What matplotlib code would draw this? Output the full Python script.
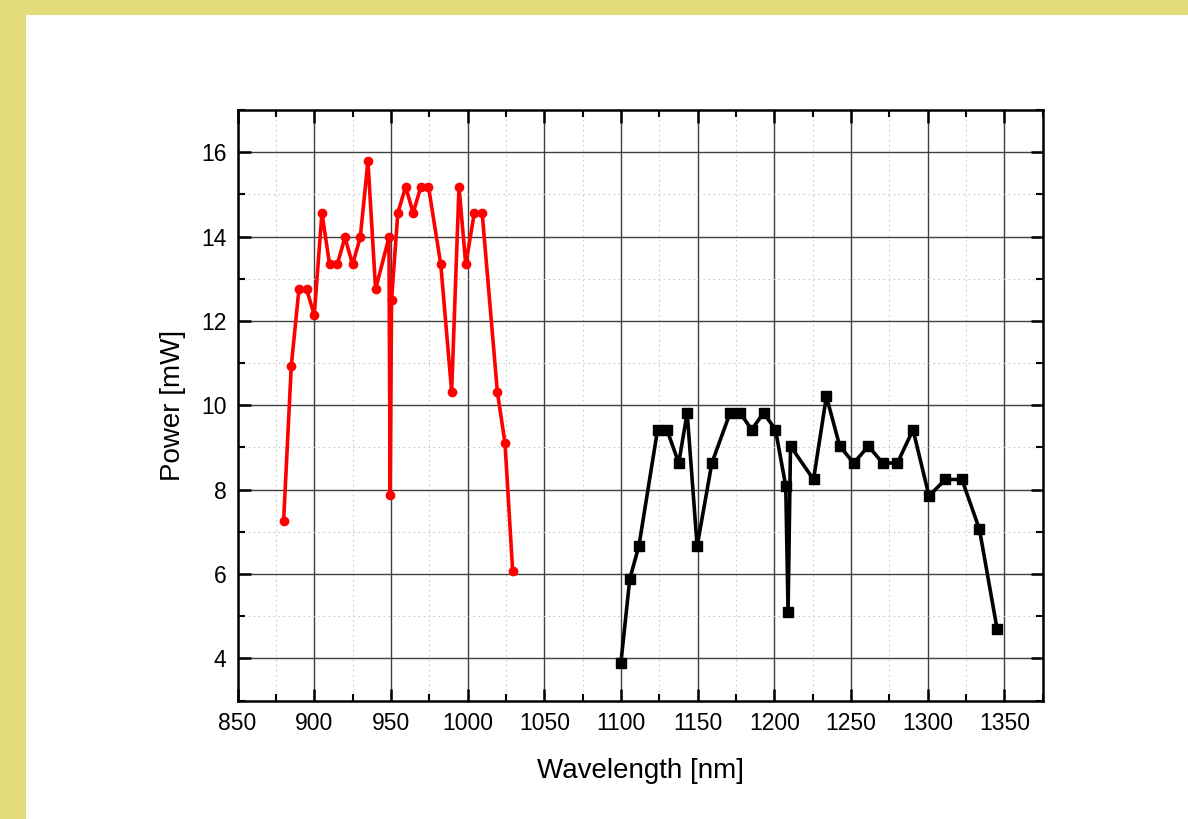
import numpy as np
import matplotlib.pyplot as plt
from matplotlib.patches import Rectangle
from matplotlib.ticker import MultipleLocator

plt.rcParams["font.family"] = ["Liberation Sans", "DejaVu Sans"]

# short-wavelength band (red)
wl_red = [880, 885, 890, 895, 900, 905, 910, 915, 920, 925, 930, 935, 940,
          948.7, 949.5, 950.4, 954.5, 959.6, 964.5, 969.5, 974.5, 982.5,
          989.6, 994.4, 998.8, 1004.4, 1009.5, 1019.4, 1024.4, 1029.4]
pw_red = [7.25, 10.93, 12.75, 12.75, 12.14, 14.56, 13.34, 13.34, 13.98, 13.34,
          13.98, 15.79, 12.75, 13.98, 7.88, 12.5, 14.56, 15.18, 14.56, 15.18,
          15.18, 13.34, 10.32, 15.18, 13.34, 14.56, 14.56, 10.32, 9.1, 6.06]

# long-wavelength band (black)
wl_blk = [1100, 1105.8, 1111.7, 1123.9, 1130, 1137.7, 1143.2, 1149.7, 1159.3,
          1171.2, 1177.7, 1185.3, 1193, 1200.8, 1207.5, 1209, 1210.6, 1225.6,
          1234, 1242.7, 1251.8, 1261.4, 1270.7, 1280.3, 1290.5, 1300.9,
          1311.6, 1322.4, 1333.8, 1345.3]
pw_blk = [3.9, 5.89, 6.66, 9.42, 9.42, 8.63, 9.82, 6.66, 8.63, 9.82, 9.82,
          9.42, 9.82, 9.42, 8.08, 5.1, 9.03, 8.24, 10.21, 9.03, 8.63, 9.03,
          8.63, 8.63, 9.42, 7.85, 8.24, 8.24, 7.06, 4.7]

fig = plt.figure(figsize=(11.88, 8.19), dpi=100)
fig.patch.set_facecolor("#e3dc7a")
# white page inside the yellow frame, kept behind the axes
fig.add_artist(Rectangle((26 / 1188, 0), 1, 1 - 15 / 819,
                         transform=fig.transFigure, facecolor="white",
                         edgecolor="none", zorder=-5))

ax = fig.add_axes([237.6 / 1188, 1 - 700.5 / 819, 805 / 1188, 590.5 / 819])

ax.plot(wl_red, pw_red, color="red", lw=2.6, marker="o", ms=6,
        zorder=3)
ax.plot(wl_blk, pw_blk, color="black", lw=2.6, marker="s", ms=6.5,
        zorder=3)

ax.set_xlim(850, 1375)
ax.set_ylim(3, 17)
ax.xaxis.set_major_locator(MultipleLocator(50))
ax.xaxis.set_minor_locator(MultipleLocator(25))
ax.yaxis.set_major_locator(MultipleLocator(2))
ax.yaxis.set_minor_locator(MultipleLocator(1))

ax.grid(which="major", color="#404040", lw=1.0)
ax.grid(which="minor", color="#c8c8c8", lw=0.8, ls=(0, (1.5, 3)))
ax.set_axisbelow(True)

ax.tick_params(which="both", direction="in", top=True, right=True,
               labelsize=16.5, pad=8)
ax.tick_params(which="major", length=9, width=1.8)
ax.tick_params(which="minor", length=5, width=1.5)
for s in ax.spines.values():
    s.set_linewidth(1.8)

ax.set_xlabel("Wavelength [nm]", fontsize=20, labelpad=17)
ax.set_ylabel("Power [mW]", fontsize=20, labelpad=11)

fig.savefig("out.png", dpi=100, facecolor=fig.get_facecolor())
